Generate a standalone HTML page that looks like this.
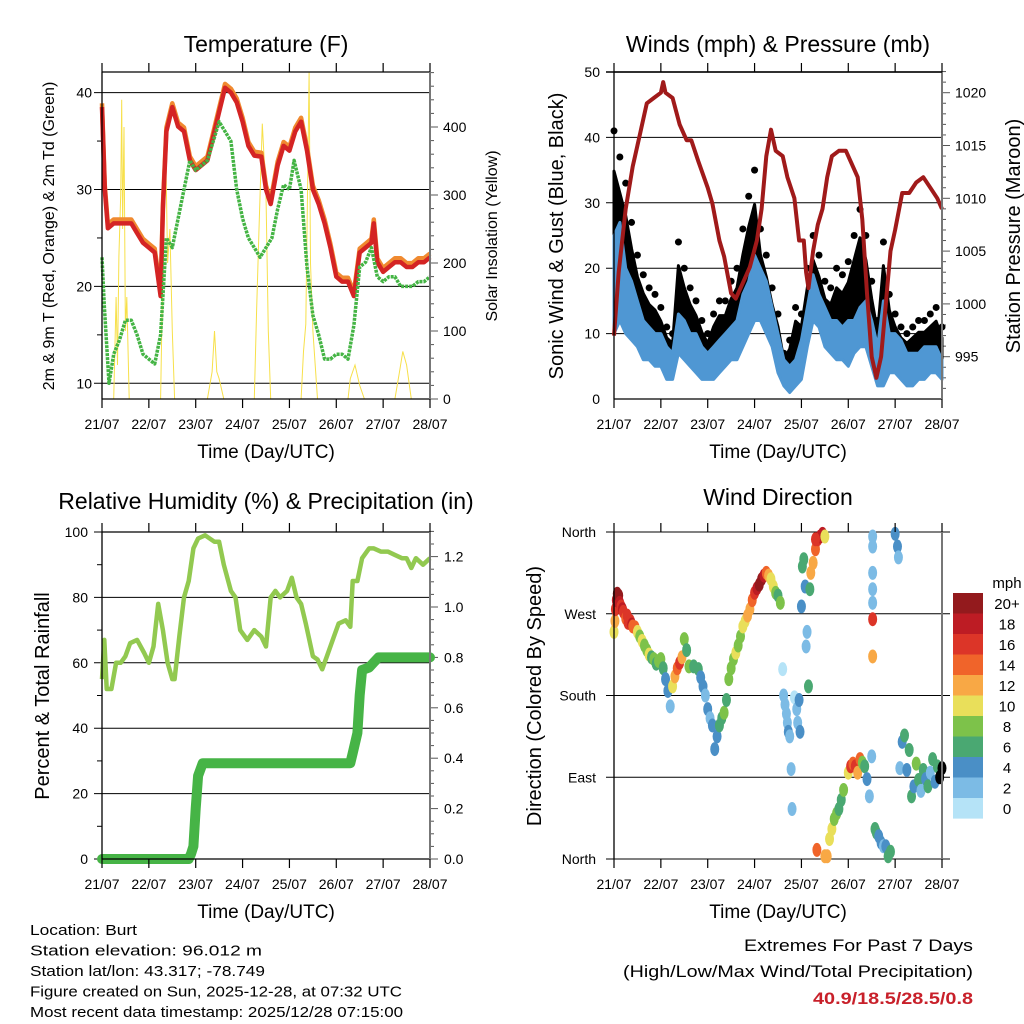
<!DOCTYPE html>
<html><head><meta charset="utf-8"><style>
html,body{margin:0;padding:0;background:#fff;}
svg{display:block;font-family:"Liberation Sans",sans-serif;}
</style></head><body>
<svg id="fig" width="1024" height="1024" viewBox="0 0 1024 1024" xmlns="http://www.w3.org/2000/svg"></svg>
<script>
// ---------- DATA ----------
const dayLabels=["21/07","22/07","23/07","24/07","25/07","26/07","27/07","28/07"];
// Temperature (F) 2m/9m (every 3h)
const tempT=[0,0.06,0.125,0.25,0.375,0.5,0.625,0.75,0.875,1.0,1.125,1.25,1.3,1.375,1.5,1.625,1.75,1.875,2.0,2.125,2.25,2.375,2.5,2.625,2.75,2.875,3.0,3.125,3.25,3.4,3.5,3.6,3.75,3.875,4.0,4.125,4.25,4.375,4.5,4.625,4.75,4.875,5.0,5.125,5.25,5.375,5.5,5.625,5.75,5.8,5.875,6.0,6.125,6.25,6.375,6.5,6.625,6.75,6.875,7.0];
const temp2m=[38.5,30,26,26.5,26.5,26.5,26.5,25.5,24.5,24,23.5,19,28,36,38.5,36.5,36,33,32,32.5,33,35.5,38,40.5,40,39,37,34.5,33.5,33.4,30,28.5,32.5,34.5,34,36,37,34,30,28.5,26.5,24,21,20.5,20.5,19,23.5,24,24.5,26.5,22.5,21.5,22,22.5,22.5,22,22,22.5,22.5,23];
const dewT=[0,0.05,0.15,0.25,0.375,0.5,0.625,0.75,0.875,1.0,1.125,1.25,1.375,1.5,1.625,1.75,1.875,2.0,2.125,2.25,2.375,2.5,2.625,2.75,2.875,3.0,3.125,3.25,3.375,3.5,3.625,3.75,3.875,4.0,4.1,4.25,4.375,4.5,4.625,4.75,4.875,5.0,5.125,5.25,5.375,5.5,5.625,5.75,5.875,6.0,6.125,6.25,6.375,6.5,6.625,6.75,6.875,7.0];
const dew2m=[23,18,10,13,14.5,16.5,16.5,15,13,12.5,12,15,25,24,27,30,33,32,32.5,33,35,37,36,35,30,27,25,24,23,24,25,28,30.5,30,33,30,22,17,15,12.5,12.5,13,13,12.5,16,22,22.5,24,21,20.5,21,21,20,20,20,20.5,20.5,21];
const solarT=[0.25,0.3,0.33,0.36,0.4,0.42,0.44,0.47,0.5,0.53,0.58,1.25,1.3,1.36,1.4,1.45,1.5,1.55,2.25,2.35,2.4,2.45,2.5,2.6,3.25,3.3,3.35,3.42,3.5,3.55,3.6,4.25,4.3,4.35,4.42,4.45,4.5,4.6,5.25,5.3,5.4,5.5,5.6,6.25,6.35,6.42,6.5,6.6];
const solarV=[0,150,50,210,300,440,250,400,100,150,0,0,200,370,200,250,100,0,0,40,100,40,30,0,0,130,250,405,300,100,0,0,70,110,480,200,100,0,0,30,50,20,0,0,40,70,50,0];
// Winds (mph) & pressure (every 3h)
const windT=[0,0.125,0.25,0.375,0.5,0.625,0.75,0.875,1.0,1.125,1.25,1.375,1.5,1.625,1.75,1.875,2.0,2.125,2.25,2.375,2.5,2.625,2.75,2.875,3.0,3.125,3.25,3.375,3.5,3.625,3.75,3.875,4.0,4.125,4.25,4.375,4.5,4.625,4.75,4.875,5.0,5.125,5.25,5.375,5.5,5.625,5.75,5.875,6.0,6.125,6.25,6.375,6.5,6.625,6.75,6.875,7.0];
const windLo=[10,12,10,9,8,6,6,5,5,3,3,7,6,5,4,3,3,3,4,5,6,6,8,10,12,12,10,8,4,2,1,2,3,8,12,11,8,7,6,6,5,7,8,8,5,2,2,4,4,3,2,2,3,3,4,4,3];
const windHi=[25,27,20,18,15,12,11,10,10,8,7,13,12,10,10,8,7,8,9,10,11,12,16,18,22,20,18,14,10,6,5,6,9,14,19,16,14,12,12,11,12,12,14,15,12,8,15,10,10,9,7,7,7,8,8,8,6];
const gustLo=[20,22,20,14,12,10,9,8,6,5,6,10,10,8,6,5,5,5,6,7,9,10,12,15,17,16,13,10,5,3,2,4,6,12,15,13,10,9,8,9,9,10,12,11,6,3,4,6,6,5,4,5,6,6,6,6,6];
const gustHi=[41,37,33,27,22,19,17,16,14,11,10,24,20,17,15,12,10,13,15,15,18,20,26,31,35,26,22,17,13,7,9,14,13,20,25,22,18,17,20,19,21,25,29,25,18,12,24,16,13,11,10,11,12,12,13,14,11];
const presT=[0,0.1,0.25,0.4,0.55,0.7,0.85,1.0,1.05,1.1,1.25,1.4,1.55,1.65,1.8,2.0,2.1,2.25,2.35,2.5,2.6,2.75,2.9,3.05,3.15,3.25,3.35,3.45,3.6,3.7,3.85,3.95,4.05,4.1,4.15,4.25,4.35,4.45,4.55,4.65,4.8,4.95,5.05,5.2,5.3,5.4,5.5,5.6,5.7,5.8,5.9,6.0,6.15,6.3,6.45,6.6,6.75,6.9,7.0];
const presV=[997,1003,1009,1013,1016,1019,1019.5,1020,1021,1020,1019.5,1017,1015.5,1015.5,1013.5,1011,1009.5,1006,1004.5,1001,1000.5,1002,1003.5,1006,1009,1014,1016.5,1014.5,1014,1012,1010,1006,1006,1003,1001.5,1005,1007.5,1009,1012,1014,1014.5,1014.5,1013.5,1012,1008,1001,995,993,995,1000,1005,1007,1010.5,1010.5,1011.5,1012,1011,1010,1009];
// Relative humidity & precipitation
const rhT=[0,0.05,0.1,0.2,0.3,0.4,0.5,0.6,0.75,0.9,1.0,1.1,1.2,1.3,1.4,1.5,1.55,1.65,1.75,1.85,1.95,2.05,2.2,2.4,2.5,2.6,2.75,2.85,2.95,3.1,3.25,3.4,3.5,3.6,3.7,3.8,3.95,4.05,4.15,4.25,4.35,4.5,4.6,4.7,4.8,4.95,5.05,5.2,5.3,5.35,5.45,5.55,5.7,5.8,5.95,6.1,6.25,6.4,6.5,6.6,6.7,6.85,7.0];
const rhV=[55,67,52,52,60,60,62,66,67,63,60,65,78,70,60,55,55,68,80,85,95,98,99,97,97,90,82,80,70,67,70,68,65,80,82,80,82,86,80,78,72,62,61,58,62,68,72,73,71,85,85,92,95,95,94,94,93,92,92,89,92,90,92];
const prT=[0,1.85,1.9,1.95,2.0,2.05,2.15,5.3,5.35,5.45,5.5,5.55,5.7,5.8,5.9,7.0];
const prV=[0,0,0.02,0.05,0.2,0.33,0.38,0.38,0.42,0.5,0.65,0.75,0.76,0.78,0.8,0.8];
// Wind direction (deg from N), speed (mph)
const dirT=[0,0.02,0.03,0.05,0.07,0.1,0.12,0.15,0.18,0.2,0.25,0.28,0.3,0.35,0.38,0.4,0.45,0.5,0.55,0.6,0.65,0.7,0.75,0.8,0.85,0.9,0.95,1.0,1.05,1.1,1.15,1.2,1.25,1.3,1.35,1.4,1.45,1.5,1.55,1.6,1.7,1.8,1.85,1.9,1.95,2.0,2.05,2.1,2.15,2.2,2.25,2.3,2.35,2.4,2.45,2.5,2.55,2.6,2.65,2.7,2.75,2.8,2.85,2.9,2.95,3.0,3.05,3.1,3.15,3.2,3.25,3.3,3.35,3.4,3.45,3.5,3.55,3.6,3.62,3.65,3.68,3.7,3.72,3.75,3.78,3.8,3.85,3.9,3.92,3.95,3.97,4.0,4.02,4.05,4.08,4.1,4.12,4.15,4.18,4.2,4.25,4.3,4.35,4.4,4.45,4.5,4.3,4.33,4.5,4.55,4.6,4.65,4.7,4.75,4.8,4.85,4.9,5.0,5.05,5.1,5.15,5.2,5.25,5.3,5.35,5.4,5.45,5.5,5.52,5.52,5.52,5.52,5.52,5.52,5.52,5.57,5.6,5.65,5.7,5.75,5.8,5.85,5.9,6.0,6.05,6.07,6.1,6.15,6.2,6.25,6.3,6.35,6.4,6.45,6.5,6.55,6.6,6.65,6.7,6.75,6.8,6.85,6.9,6.95,7.0];
const dirV=[250,262,275,285,292,290,282,278,275,272,265,268,260,262,258,256,255,250,245,240,235,230,225,222,220,215,218,220,210,198,185,168,190,201,210,216,222,242,230,212,212,209,200,190,180,165,155,147,121,135,147,155,161,175,198,210,220,227,235,245,256,262,268,275,285,293,298,302,308,312,315,312,308,300,293,290,282,209,180,170,160,150,140,135,99,55,178,165,150,175,140,278,322,330,300,234,250,190,297,315,326,341,352,355,358,355,352,10,3,3,22,33,44,50,55,65,76,95,102,105,102,95,110,106,102,88,69,113,355,344,315,297,282,264,223,33,29,25,18,14,14,3,8,358,344,332,100,129,136,98,120,69,80,105,87,75,98,88,80,95,110,85,102,90,100,105,100];
const dirS=[10,13,16,19,21,20,19,17,18,16,15,17,17,16,18,15,14,10,9,10,8,9,10,7,8,6,8,8,7,4,4,3,11,12,15,16,12,8,7,8,7,6,5,4,3,4,3,4,4,5,6,7,8,7,8,9,8,10,8,9,10,11,12,13,15,17,19,20,21,19,15,13,11,10,9,7,8,1,2,3,3,2,4,3,3,3,1,2,3,4,5,4,6,7,5,2,3,6,7,12,13,14,17,19,18,11,16,15,13,13,11,10,9,8,7,7,9,10,16,14,17,13,14,8,7,4,3,3,3,3,2,3,2,17,13,7,7,5,4,3,4,7,6,5,4,2,3,4,6,4,7,6,5,8,6,3,7,4,6,3,7,4,7];
const cbLabels=["20+","18","16","14","12","10","8","6","4","2","0"];
const cbColors=["#931a1d","#bd1c24","#dc3528","#f0642a","#f8a845","#e9df5a","#7dc24a","#4aa872","#4a8fc6","#7cbbe5","#b5e3f7"];

// ---------- HELPERS ----------
const NS="http://www.w3.org/2000/svg";
const svg=document.getElementById('fig');
function el(tag,attrs,parent,txt){const e=document.createElementNS(NS,tag);for(const k in attrs)e.setAttribute(k,attrs[k]);if(txt!==undefined)e.textContent=txt;(parent||svg).appendChild(e);return e;}
function grp(name){const g=el('g',{});return g;}
function lineStr(xs,ys){return xs.map((x,i)=>(i?'L':'M')+x.toFixed(1)+','+ys[i].toFixed(1)).join('');}
const X0=102,X1=430,XR0=614,XR1=942;
const TOP0=72,BOT0=399,TOP1=532,BOT1=859;

function frame(g,x0,x1,y0,y1,labelY,titleY){
  for(let d=0;d<=7;d++){const x=x0+(x1-x0)*d/7;
    el('line',{x1:x,y1:y0-9,x2:x,y2:y0,stroke:'#000','stroke-width':1.2},g);
    el('line',{x1:x,y1:y1,x2:x,y2:y1+9,stroke:'#000','stroke-width':1.2},g);
    const t=el('text',{x:x,y:labelY,'font-size':14,'text-anchor':'middle'},g,dayLabels[d]);
    }
  const tt=el('text',{x:(x0+x1)/2,y:titleY,'font-size':19,'text-anchor':'middle'},g,'Time (Day/UTC)');
  
}
function box(g,x0,x1,y0,y1){
  el('line',{x1:x0,y1:y0,x2:x0,y2:y1,stroke:'#000','stroke-width':1.3},g);
  el('line',{x1:x0,y1:y1,x2:x1,y2:y1,stroke:'#000','stroke-width':1.3},g);
  el('line',{x1:x0,y1:y0,x2:x1,y2:y0,stroke:'#000','stroke-width':1.3},g);
  el('line',{x1:x1,y1:y0,x2:x1,y2:y1,stroke:'#777','stroke-width':2},g);
}
function title(x,y,txt,name){const t=el('text',{x:x,y:y,'font-size':23,'text-anchor':'middle'},svg,txt);}
function vtitle(x,y,txt,size,name){const t=el('text',{x:0,y:0,'font-size':size,'text-anchor':'middle',transform:`translate(${x},${y}) rotate(-90)`},svg,txt);}

// ---------- PANEL 1: TEMPERATURE ----------
(function(){
  const g=grp('temperature-panel');
  const tx=d=>X0+(X1-X0)*d/7;
  const ty=v=>383.3-(v-10)*9.69;
  const sy=v=>BOT0-v*0.68;
  [10,20,30,40].forEach(v=>{el('line',{x1:X0-8,y1:ty(v),x2:X1,y2:ty(v),stroke:'#000','stroke-width':1},g);
    const t=el('text',{x:X0-10,y:ty(v)+5,'font-size':14,'text-anchor':'end'},g,v);});
  [15,25,35].forEach(v=>el('line',{x1:X0-5,y1:ty(v),x2:X0,y2:ty(v),stroke:'#000'},g));
  for(let v=0;v<=480;v+=20){const maj=v%100===0;el('line',{x1:X1,y1:sy(v),x2:X1+(maj?8:4),y2:sy(v),stroke:'#555'},g);
    if(maj){const t=el('text',{x:X1+13,y:sy(v)+5,'font-size':14},g,v);}}
  const s=el('path',{d:lineStr(solarT.map(tx),solarV.map(sy)),fill:'none',stroke:'#f7e04a','stroke-width':1},g);
  
  const o=el('path',{d:lineStr(tempT.map(tx),temp2m.map(v=>ty(v+0.4))),fill:'none',stroke:'#f08a30','stroke-width':4.5,'stroke-linejoin':'round'},g);
  
  const r=el('path',{d:lineStr(tempT.map(tx),temp2m.map(ty)),fill:'none',stroke:'#d42424','stroke-width':4.5,'stroke-linejoin':'round'},g);
  
  const gr=el('path',{d:lineStr(dewT.map(tx),dew2m.map(ty)),fill:'none',stroke:'#44b444','stroke-width':3.5,'stroke-dasharray':'3 1','stroke-linejoin':'round'},g);
  
  box(g,X0,X1,TOP0,BOT0);
  frame(g,X0,X1,TOP0,BOT0,429,458);
})();
title(266,52,'Temperature (F)','temperature-title');
vtitle(54,236,'2m & 9m T (Red, Orange) & 2m Td (Green)',16,'temperature-y-title');
vtitle(497,236,'Solar Insolation (Yellow)',16,'solar-y-title');

// ---------- PANEL 2: WINDS ----------
(function(){
  const g=grp('winds-panel');
  const tx=d=>XR0+(XR1-XR0)*d/7;
  const wy=v=>BOT0-v*6.54;
  const py=v=>92.7+(1020-v)*10.56;
  [0,10,20,30,40,50].forEach(v=>{if(v>0)el('line',{x1:XR0-8,y1:wy(v),x2:XR1,y2:wy(v),stroke:'#000','stroke-width':1},g);
    const t=el('text',{x:XR0-14,y:wy(v)+5,'font-size':14,'text-anchor':'end'},g,v);});
  for(let v=992;v<=1022;v++){const maj=v%5===0;el('line',{x1:XR1,y1:py(v),x2:XR1+(maj?8:4),y2:py(v),stroke:'#555'},g);
    if(maj&&v>=995&&v<=1020){const t=el('text',{x:XR1+13,y:py(v)+5,'font-size':14},g,v);}}
  const xs=windT.map(tx);
  const gb=el('path',{d:lineStr(xs,gustHi.map(v=>wy(v*0.85)))+lineStr(xs.slice().reverse(),gustLo.slice().reverse().map(wy)).replace('M','L')+'Z',fill:'#000',stroke:'#000','stroke-width':3,'stroke-linejoin':'round'},g);
  
  windT.forEach((t,i)=>{const d=el('circle',{cx:tx(t),cy:wy(gustHi[i]),r:3.5,fill:'#000'},g);
    });
  const wb=el('path',{d:lineStr(xs,windHi.map(wy))+lineStr(xs.slice().reverse(),windLo.slice().reverse().map(wy)).replace('M','L')+'Z',fill:'#4f97d3',stroke:'#4f97d3','stroke-width':3,'stroke-linejoin':'round'},g);
  
  const p=el('path',{d:lineStr(presT.map(tx),presV.map(py)),fill:'none',stroke:'#a01a1a','stroke-width':4,'stroke-linejoin':'round'},g);
  
  box(g,XR0,XR1,TOP0,BOT0);
  el('line',{x1:XR0-8,y1:TOP0,x2:XR1,y2:TOP0,stroke:'#000','stroke-width':1.5},g);
  frame(g,XR0,XR1,TOP0,BOT0,429,458);
})();
title(778,52,'Winds (mph) & Pressure (mb)','winds-title');
vtitle(563,236,'Sonic Wind & Gust (Blue, Black)',20,'winds-y-title');
vtitle(1020,236,'Station Pressure (Maroon)',20,'pressure-y-title');

// ---------- PANEL 3: RH ----------
(function(){
  const g=grp('humidity-panel');
  const tx=d=>X0+(X1-X0)*d/7;
  const hy=v=>BOT1-v*3.27;
  const py=v=>BOT1-v*252;
  [0,20,40,60,80,100].forEach(v=>{el('line',{x1:X0-8,y1:hy(v),x2:X1,y2:hy(v),stroke:'#000','stroke-width':1},g);
    const t=el('text',{x:X0-14,y:hy(v)+5,'font-size':14,'text-anchor':'end'},g,v);});
  [10,30,50,70,90].forEach(v=>el('line',{x1:X0-5,y1:hy(v),x2:X0,y2:hy(v),stroke:'#000'},g));
  for(let i=0;i<=26;i++){const v=i*0.05;const maj=i%4===0;el('line',{x1:X1,y1:py(v),x2:X1+(maj?8:4),y2:py(v),stroke:'#555'},g);
    if(maj){const t=el('text',{x:X1+14,y:py(v)+5,'font-size':14},g,v.toFixed(1));}}
  const pr=el('path',{d:lineStr(prT.map(tx),prV.map(py)),fill:'none',stroke:'#46b446','stroke-width':10,'stroke-linejoin':'round','stroke-linecap':'round'},g);
  
  const rh=el('path',{d:lineStr(rhT.map(tx),rhV.map(hy)),fill:'none',stroke:'#92c950','stroke-width':4.5,'stroke-linejoin':'round'},g);
  
  box(g,X0,X1,TOP1,BOT1);
  frame(g,X0,X1,TOP1,BOT1,889,918);
})();
title(266,509,'Relative Humidity (%) & Precipitation (in)','humidity-title');
vtitle(49,696,'Percent & Total Rainfall',20,'humidity-y-title');

// ---------- PANEL 4: WIND DIRECTION ----------
(function(){
  const g=grp('wind-direction-panel');
  const tx=d=>XR0+(XR1-XR0)*d/7;
  const dy=v=>BOT1-v*(BOT1-TOP1)/360;
  const names=["North","East","South","West","North"];
  [0,90,180,270,360].forEach((v,i)=>{el('line',{x1:XR0-8,y1:dy(v),x2:XR1+8,y2:dy(v),stroke:'#000','stroke-width':1},g);
    const t=el('text',{x:XR0-18,y:dy(v)+5,'font-size':14,'text-anchor':'end'},g,names[i]);});
  dirT.forEach((t,i)=>{const idx=10-Math.min(10,Math.floor(dirS[i]/2));
    const c=el('ellipse',{cx:tx(t),cy:dy(dirV[i]),rx:4.5,ry:7,fill:cbColors[idx]},g);
    });
  el('line',{x1:XR0,y1:TOP1,x2:XR0,y2:BOT1,stroke:'#000','stroke-width':1.3},g);
  el('line',{x1:XR1,y1:TOP1,x2:XR1,y2:BOT1,stroke:'#777','stroke-width':2},g);
  frame(g,XR0,XR1,TOP1,BOT1,889,918);
  const cb=grp('speed-colorbar');
  cbLabels.forEach((l,i)=>{const y=593+i*20.5;
    const r=el('rect',{x:953,y:y,width:30,height:20.6,fill:cbColors[i]},cb);
    
    const t=el('text',{x:1007,y:y+16,'font-size':15,'text-anchor':'middle'},cb,l);
    });
  const m=el('text',{x:1007,y:588,'font-size':15,'text-anchor':'middle'},cb,'mph');
  
})();
title(778,505,'Wind Direction','wind-direction-title');
vtitle(541,696,'Direction (Colored By Speed)',20,'wind-direction-y-title');

// ---------- FOOTER ----------
(function(){
  const g=grp('station-info');
  const lines=[["Location: Burt",107],["Station elevation: 96.012 m",232],["Station lat/lon: 43.317; -78.749",235],["Figure created on Sun, 2025-12-28, at 07:32 UTC",372],["Most recent data timestamp: 2025/12/28 07:15:00",373]];
  lines.forEach((l,i)=>{const t=el('text',{x:30,y:935+i*20.5,'font-size':15,textLength:l[1],lengthAdjust:'spacingAndGlyphs'},g,l[0]);
    });
  const e=grp('extremes');
  const a=el('text',{x:973,y:951,'font-size':17,'text-anchor':'end',textLength:229,lengthAdjust:'spacingAndGlyphs'},e,'Extremes For Past 7 Days');
  
  const b=el('text',{x:973,y:977,'font-size':17,'text-anchor':'end',textLength:350,lengthAdjust:'spacingAndGlyphs'},e,'(High/Low/Max Wind/Total Precipitation)');
  
  const c=el('text',{x:973,y:1004,'font-size':17,'font-weight':'bold',fill:'#c8202a','text-anchor':'end',textLength:160,lengthAdjust:'spacingAndGlyphs'},e,'40.9/18.5/28.5/0.8');
  
})();
</script>
</body></html>
